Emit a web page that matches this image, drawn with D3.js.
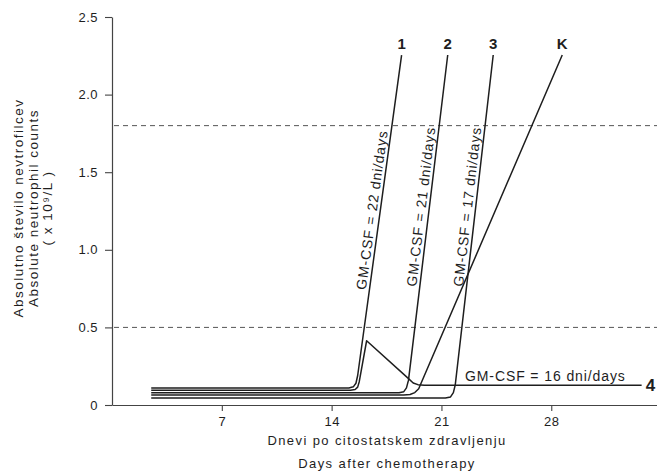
<!DOCTYPE html>
<html>
<head>
<meta charset="utf-8">
<script src="https://cdn.jsdelivr.net/npm/d3@7"></script>
<style>
  html, body { margin: 0; padding: 0; background: #fff; }
  svg { display: block; font-family: "Liberation Sans", Arial, Helvetica, sans-serif; }
</style>
</head>
<body>
<svg id="chart" width="657" height="471"></svg>
<script>
// ---- data (days after chemotherapy, neutrophil count x10^9/L) ----
const seriesNames = ["1", "2", "3", "K", "4"];
const seriesLabels = ["GM-CSF = 22 dni/days", "GM-CSF = 21 dni/days", "GM-CSF = 17 dni/days", "", "GM-CSF = 16 dni/days"];
const series1 = [[2.5,0.11],[15.1,0.11],[15.38,0.117],[15.55,0.14],[15.66,0.19],[18.46,2.255]];
const series2 = [[2.5,0.079],[18.3,0.079],[18.6,0.086],[18.77,0.11],[18.9,0.16],[21.4,2.255]];
const series3 = [[2.5,0.045],[21.25,0.045],[21.58,0.052],[21.76,0.08],[21.88,0.13],[24.3,2.255]];
const seriesK = [[2.5,0.064],[18.6,0.064],[19.0,0.068],[19.3,0.08],[19.55,0.105],[28.7,2.255]];
const series4 = [[2.5,0.095],[15.2,0.095],[15.5,0.1],[15.66,0.115],[15.76,0.15],[16.23,0.414],[18.85,0.175],[19.2,0.142],[19.5,0.131],[19.9,0.128],[33.76,0.128]];
const referenceLevels = [1.8, 0.5];
const xTicks = [7, 14, 21, 28];
const yTicks = [0, 0.5, 1.0, 1.5, 2.0, 2.5];
const yTitle = ["Absolutno število nevtrofilcev", "Absolute neutrophil counts", "( x 10⁹/L )"];
const xTitle = ["Dnevi po citostatskem zdravljenju", "Days after chemotherapy"];

const allSeries = [series1, series2, series3, seriesK, series4];

// ---- layout ----
const svg = d3.select("#chart");
const x = d3.scaleLinear().domain([0, 34.74]).range([112, 657]);
const y = d3.scaleLinear().domain([0, 2.5]).range([405, 17]);
const ink = "#1e1e1e";

// reference dashed lines
svg.append("g").selectAll("line").data(referenceLevels).join("line")
  .attr("x1", x(0) + 2).attr("x2", 657)
  .attr("y1", d => y(d)).attr("y2", d => y(d))
  .attr("stroke", "#555").attr("stroke-width", 1)
  .attr("stroke-dasharray", "5,4");

// axes
const yAxis = d3.axisLeft(y).tickValues(yTicks).tickSize(7).tickSizeOuter(0).tickPadding(7)
  .tickFormat(d => d === 0 ? "0" : d.toFixed(1));
const xAxis = d3.axisBottom(x).tickValues(xTicks).tickSize(6).tickSizeOuter(0).tickPadding(6);

const gy = svg.append("g").attr("transform", `translate(${x(0)},0)`).call(yAxis);
const gx = svg.append("g").attr("transform", `translate(0,${y(0)})`).call(xAxis);
[gx, gy].forEach(g => {
  g.select(".domain").attr("stroke", "#444").attr("stroke-width", 1.2);
  g.selectAll(".tick line").attr("stroke", "#444").attr("stroke-width", 1.1);
  g.selectAll(".tick text").attr("fill", ink).attr("font-size", 13)
    .attr("font-family", "'Liberation Sans', Arial, sans-serif").style("letter-spacing", "0.5px");
});

// lines
const line = d3.line().x(d => x(d[0])).y(d => y(d[1])).curve(d3.curveLinear);
svg.append("g").selectAll("path").data(allSeries).join("path")
  .attr("d", line).attr("fill", "none").attr("stroke", ink)
  .attr("stroke-width", 1.5).attr("stroke-linejoin", "round");

// number labels at top of lines 1,2,3,K
[0, 1, 2, 3].forEach(i => {
  const s = allSeries[i];
  const p = s[s.length - 1];
  svg.append("text").attr("x", x(p[0])).attr("y", y(p[1]) - 6)
    .attr("text-anchor", "middle").attr("font-size", 15).attr("font-weight", "bold")
    .attr("fill", ink).text(seriesNames[i]);
});

// label 4 at line end
{
  const p = series4[series4.length - 1];
  svg.append("text").attr("x", x(p[0]) + 4).attr("y", y(p[1]) + 6)
    .attr("font-size", 17).attr("font-weight", "bold").attr("fill", ink).text(seriesNames[4]);
}

// rotated GM-CSF labels along steep lines
const labelStartValue = [0.74, 0.76, 0.76];
[0, 1, 2].forEach(i => {
  const s = allSeries[i];
  const a = s[s.length - 2], b = s[s.length - 1];
  const ax = x(a[0]), ay = y(a[1]), bx = x(b[0]), by = y(b[1]);
  const ang = Math.atan2(by - ay, bx - ax) * 180 / Math.PI;
  const t = (labelStartValue[i] - a[1]) / (b[1] - a[1]);
  const px = ax + t * (bx - ax) - 3.5, py = ay + t * (by - ay);
  svg.append("text").attr("transform", `translate(${px},${py}) rotate(${ang})`)
    .attr("font-size", 14).attr("fill", ink).style("letter-spacing", "0.9px")
    .text(seriesLabels[i]);
});

// horizontal label for series 4
svg.append("text").attr("x", x(22.5)).attr("y", y(0.128) - 4)
  .attr("font-size", 14).attr("fill", ink).style("letter-spacing", "0.9px")
  .text(seriesLabels[4]);

// y title
const yTitleX = [18, 33, 47];
yTitle.forEach((t, i) => {
  svg.append("text").attr("transform", `translate(${yTitleX[i] + 4.5},208) rotate(-90)`)
    .attr("text-anchor", "middle").attr("font-size", 13.5).attr("fill", ink)
    .style("letter-spacing", "1.5px").text(t);
});

// x title
const xTitleY = [445, 468];
xTitle.forEach((t, i) => {
  svg.append("text").attr("x", 387).attr("y", xTitleY[i])
    .attr("text-anchor", "middle").attr("font-size", 13).attr("fill", ink)
    .style("letter-spacing", "1.4px").text(t);
});
</script>
</body>
</html>
